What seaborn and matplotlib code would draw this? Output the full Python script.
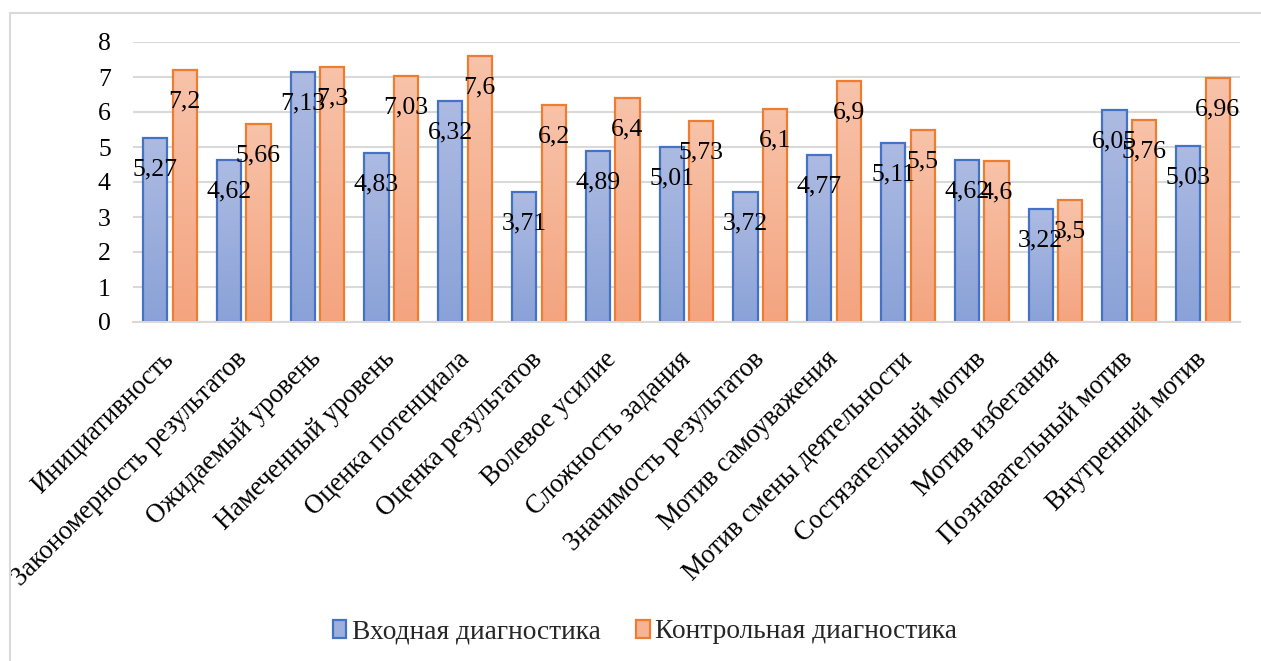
import numpy as np
import pandas as pd
import matplotlib
matplotlib.use("Agg")
import matplotlib.pyplot as plt
import seaborn as sns
from matplotlib.patches import Patch
from matplotlib.lines import Line2D
from matplotlib.colors import to_rgb

# ---------------- data ----------------
categories = [
    "Инициативность",
    "Закономерность результатов",
    "Ожидаемый уровень",
    "Намеченный уровень",
    "Оценка потенциала",
    "Оценка результатов",
    "Волевое усилие",
    "Сложность задания",
    "Значимость результатов",
    "Мотив самоуважения",
    "Мотив смены деятельности",
    "Состязательный мотив",
    "Мотив избегания",
    "Познавательный мотив",
    "Внутренний мотив",
]
series_names = ["Входная диагностика", "Контрольная диагностика"]
input_values = [5.27, 4.62, 7.13, 4.83, 6.32, 3.71, 4.89, 5.01, 3.72, 4.77,
                5.11, 4.62, 3.22, 6.05, 5.03]
control_values = [7.2, 5.66, 7.3, 7.03, 7.6, 6.2, 6.4, 5.73, 6.1, 6.9,
                  5.5, 4.6, 3.5, 5.76, 6.96]
y_ticks = [0, 1, 2, 3, 4, 5, 6, 7, 8]

# ---------------- style ----------------
W, H, DPI = 1261, 661, 100
sns.set_style("white")
plt.rcParams["font.family"] = ["Liberation Serif", "DejaVu Serif"]

edge_colors = ["#4472C4", "#ED7D31"]
grad_top = ["#adbbe2", "#f8c3aa"]
grad_bot = ["#8aa2d8", "#f4a47f"]
mid_colors = ["#9cafdd", "#f6b495"]

df = pd.DataFrame({
    "Категория": categories * 2,
    "Значение": input_values + control_values,
    "Серия": [series_names[0]] * len(categories) + [series_names[1]] * len(categories),
})

fig = plt.figure(figsize=(W / DPI, H / DPI), dpi=DPI)
ax = fig.add_axes([133 / W, 1 - 322 / H, (1240 - 133) / W, (322 - 42) / H])

sns.barplot(data=df, x="Категория", y="Значение", hue="Серия",
            order=categories, hue_order=series_names,
            palette=mid_colors, width=0.8, gap=0.18, ax=ax,
            legend=False, errorbar=None, linewidth=1.6)

ax.set_xlim(-0.5, len(categories) - 0.5)
ax.set_ylim(0, 8)

# gradient fills + outlines
for i, cont in enumerate(ax.containers):
    c1 = np.array(to_rgb(grad_top[i]))
    c2 = np.array(to_rgb(grad_bot[i]))
    t = np.linspace(0, 1, 256)[:, None]
    grad = (c1[None, :] * (1 - t) + c2[None, :] * t)[:, None, :]
    for bar in cont:
        bar.set_edgecolor(edge_colors[i])
        bar.set_linewidth(1.6)
        x0, w, h = bar.get_x(), bar.get_width(), bar.get_height()
        im = ax.imshow(grad, extent=[x0, x0 + w, 0, h], aspect="auto",
                       origin="upper", zorder=bar.get_zorder() - 0.01,
                       interpolation="bilinear")
        im.set_clip_path(bar)
        bar.set_facecolor("none")

ax.set_xlim(-0.5, len(categories) - 0.5)
ax.set_ylim(0, 8)

# data labels
for i, (cont, vals) in enumerate(zip(ax.containers, [input_values, control_values])):
    for bar, v in zip(cont, vals):
        ax.annotate(f"{v:g}".replace(".", ","),
                    xy=(bar.get_x() + bar.get_width() / 2, bar.get_height()),
                    xytext=(0, -29), textcoords="offset pixels",
                    ha="center", va="center_baseline", fontsize=18.5,
                    color="black", zorder=5)

# axes styling
ax.set_yticks(y_ticks)
ax.set_yticklabels([str(t) for t in y_ticks])
ax.yaxis.grid(True, color="#d9d9d9", linewidth=1.5)
ax.set_axisbelow(True)
for s in ["left", "right", "top"]:
    ax.spines[s].set_visible(False)
ax.spines["bottom"].set_color("#d9d9d9")
ax.spines["bottom"].set_linewidth(1.5)
ax.tick_params(axis="y", length=0, pad=16, labelsize=18.5, labelcolor="black")
ax.tick_params(axis="x", length=0, pad=24, labelsize=19.2, labelcolor="black")
ax.set_xlabel("")
ax.set_ylabel("")
plt.setp(ax.get_xticklabels(), rotation=45, ha="right", va="center",
         rotation_mode="anchor")

# legend
handles = [Patch(facecolor=mid_colors[i], edgecolor=edge_colors[i], linewidth=1.6,
                 label=series_names[i]) for i in range(2)]
fig.legend(handles=handles, loc="center", bbox_to_anchor=(645 / W, 1 - 632 / H),
           ncol=2, frameon=False, fontsize=19.7, handlelength=0.5,
           handleheight=0.6, handletextpad=0.2, columnspacing=1.3)

# outer chart border
fig.add_artist(Line2D([10 / W, 10 / W], [0, 1 - 13 / H], color="#d9d9d9", lw=1.5))
fig.add_artist(Line2D([10 / W, 1], [1 - 13 / H, 1 - 13 / H], color="#d9d9d9", lw=1.5))

fig.savefig("out.png", dpi=DPI)
